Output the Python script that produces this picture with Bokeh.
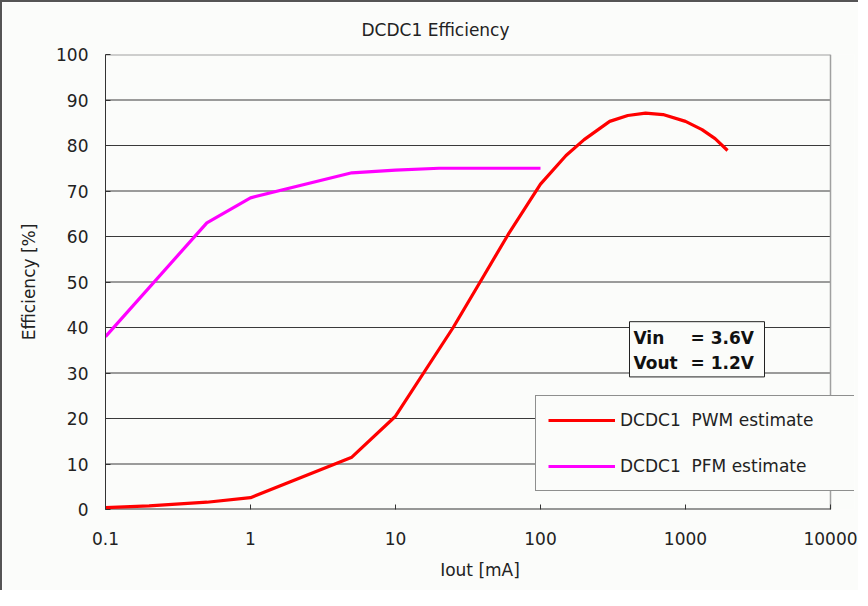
import math
from bokeh.plotting import figure
from bokeh.models import (FixedTicker, Legend, LegendItem, Label, BoxAnnotation, Range1d)
from bokeh.embed import file_html
from bokeh.resources import INLINE

# ---- data ----
x_ticks = [0.1, 1, 10, 100, 1000, 10000]
x_tick_labels = ["0.1", "1", "10", "100", "1000", "10000"]
y_ticks = [0, 10, 20, 30, 40, 50, 60, 70, 80, 90, 100]

pwm_iout = [0.1, 0.2, 0.5, 1, 5, 10, 25, 40, 60, 100, 150, 200, 300, 400, 530, 700, 1000, 1300, 1600, 1950]
pwm_eff = [0.4, 0.8, 1.6, 2.6, 11.5, 20.5, 40, 51, 60.5, 71.5, 77.8, 81.3, 85.3, 86.6, 87.1, 86.8, 85.3, 83.5, 81.5, 78.9]

pfm_iout = [0.1, 0.5, 1, 5, 10, 20, 50, 100]
pfm_eff = [38, 63, 68.5, 74, 74.6, 75, 75, 75]

title_text = "DCDC1  Efficiency"
x_label = "Iout [mA]"
y_label = "Efficiency [%]"
series_names = ["DCDC1  PWM estimate", "DCDC1  PFM estimate"]
note_names = ["Vin", "Vout"]
note_values = ["= 3.6V", "= 1.2V"]

FONT = "DejaVu Sans"
FS = "17px"
BG = "#FBFCFA"
DARK = "#333333"
GRAY = "#A0A0A0"

x_min, x_max = x_ticks[0], x_ticks[-1]
y_min, y_max = y_ticks[0], y_ticks[-1]
# frame extends a little beyond 10000 so the legend can overhang the plot box
x_view_max = 10 ** (math.log10(x_max) + 24 / 145.0)

p = figure(width=858, height=590, x_axis_type="log", output_backend="svg",
           toolbar_location=None, x_range=Range1d(x_min, x_view_max), y_range=Range1d(y_min, y_max),
           min_border_left=103, min_border_right=6, min_border_top=52, min_border_bottom=83,
           background_fill_color=BG, border_fill_color=BG)
p.styles = {"border-left": "2px solid #555555", "border-top": "2px solid #555555"}

p.title.text = title_text
p.title.align = "left"
p.title.offset = 256
p.title.standoff = 30
p.title.text_font = FONT
p.title.text_font_size = FS
p.title.text_font_style = "normal"
p.title.text_color = "#222222"

p.outline_line_color = None

# axes
p.xaxis.ticker = FixedTicker(ticks=x_ticks, minor_ticks=[])
p.xaxis.major_label_overrides = {t: l for t, l in zip(x_ticks, x_tick_labels)}
p.yaxis.ticker = FixedTicker(ticks=y_ticks, minor_ticks=[])
for ax in (p.xaxis, p.yaxis):
    ax.axis_line_color = DARK
    ax.major_tick_line_color = DARK
    ax.major_tick_in = 5
    ax.major_tick_out = 0
    ax.minor_tick_line_color = None
    ax.major_label_text_font = FONT
    ax.major_label_text_font_size = FS
    ax.major_label_text_color = "#222222"
    ax.axis_label_text_font = FONT
    ax.axis_label_text_font_size = FS
    ax.axis_label_text_font_style = "normal"
    ax.axis_label_text_color = "#222222"
p.xaxis.axis_line_color = None
p.xaxis.axis_label = x_label
p.yaxis.axis_label = y_label
p.xaxis.major_label_standoff = 22
p.xaxis.axis_label_standoff = 12
p.yaxis.major_label_standoff = 17
p.yaxis.axis_label_standoff = 14

p.xgrid.grid_line_color = None
p.ygrid.grid_line_color = None

# horizontal gridlines, plot box edges (only up to x = 10000)
inner = y_ticks[1:-1]
p.segment(x0=[x_min] * len(inner), y0=inner, x1=[x_max] * len(inner), y1=inner,
          line_color="#3A3A3A", line_width=1)
p.segment(x0=[x_min], y0=[y_max], x1=[x_max], y1=[y_max], line_color=GRAY, line_width=2)
p.segment(x0=[x_max], y0=[y_min], x1=[x_max], y1=[y_max], line_color=GRAY, line_width=1.5)
p.segment(x0=[x_min], y0=[y_min], x1=[x_max], y1=[y_min], line_color=DARK, line_width=2)

r1 = p.line(pwm_iout, pwm_eff, line_color="#FF0000", line_width=3.2)
r2 = p.line(pfm_iout, pfm_eff, line_color="#FF00FF", line_width=3.2)

legend = Legend(items=[LegendItem(label=series_names[0], renderers=[r1]),
                       LegendItem(label=series_names[1], renderers=[r2])],
                location=(430, 18), orientation="vertical",
                glyph_width=67, glyph_height=24, spacing=22, padding=12,
                label_standoff=5, label_width=223,
                label_text_font=FONT, label_text_font_size=FS, label_text_color="#222222",
                border_line_color="#222222", border_line_width=1,
                background_fill_color=BG, background_fill_alpha=1.0)
p.add_layout(legend, "center")

# annotation box
def px_to_x(px):
    return 10 ** ((px - 113) / 145.0 - 1)

def px_to_y(py):
    return (515 - py) / 4.53

p.add_layout(BoxAnnotation(left=px_to_x(637), right=px_to_x(772), bottom=px_to_y(383), top=px_to_y(328),
                           fill_color=BG, fill_alpha=1.0, line_color="#222222", line_width=1, line_alpha=1.0))
for i in range(len(note_names)):
    for txt, sx in ((note_names[i], 528), (note_values[i], 585)):
        p.add_layout(Label(x=sx, y=172 - 25 * i, x_units="screen", y_units="screen", text=txt,
                           text_align="left", text_baseline="middle",
                           text_font=FONT, text_font_size=FS, text_font_style="bold",
                           text_color="#111111"))

open("out.html", "w").write(file_html(p, INLINE))
